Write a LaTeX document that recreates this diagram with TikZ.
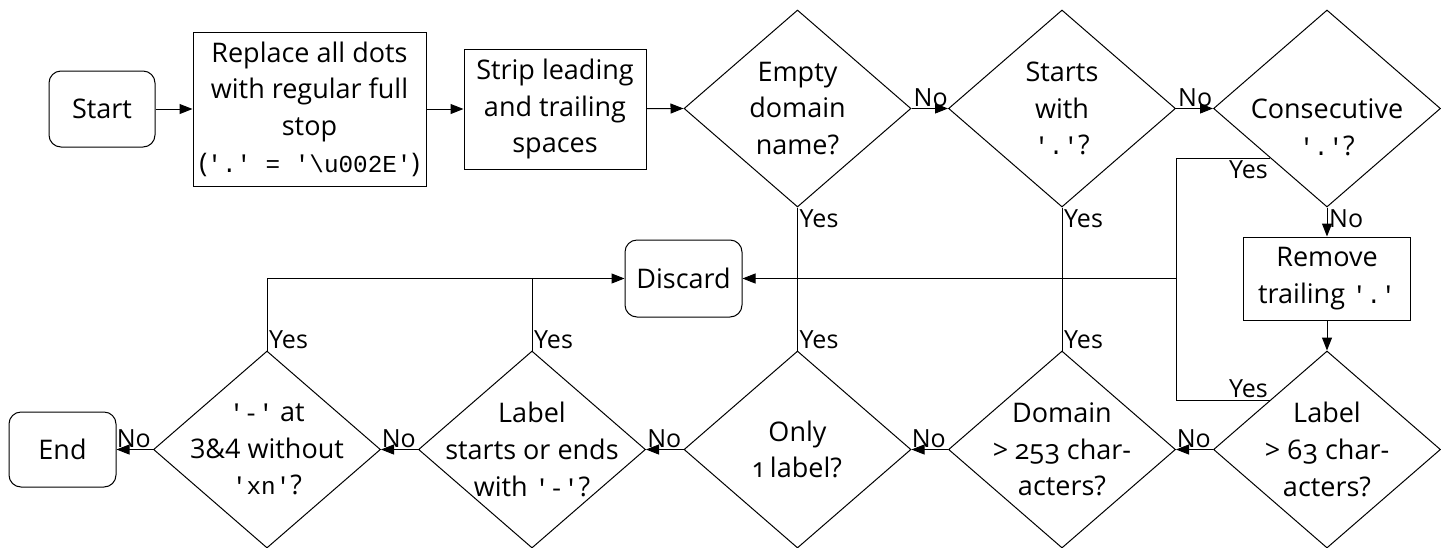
\documentclass[tikz,border=0pt]{standalone}
\usepackage{fontspec}
\setmainfont{Open Sans}
\setmonofont{Liberation Mono}[Scale=0.9]
\usetikzlibrary{shapes.geometric,arrows.meta,calc}
\newcommand{\osf}[1]{{\addfontfeatures{Numbers=OldStyle}#1}}
\begin{document}
\begin{tikzpicture}[x=1pt,y=1pt,
  font=\fontsize{27}{36.7}\selectfont,
  base/.style={draw=black, line width=1pt},
  term/.style={base, rounded corners=12pt, minimum width=106pt, minimum height=76pt, inner sep=0pt},
  procbox/.style={base, inner sep=0pt, align=center},
  dia/.style={base, diamond, minimum width=227pt, minimum height=197pt, inner sep=0pt},
  txt/.style={align=center, inner sep=0pt},
  ln/.style={line width=1pt},
  arr/.style={line width=1pt, -{Triangle[length=13pt,width=10pt]}},
  lab/.style={inner sep=2pt, font=\fontsize{25}{30}\selectfont}]
\useasboundingbox (0,0) rectangle (1441,-547);

% top row
\node[term] (start) at (102,-109) {Start};
\node[procbox, minimum width=233pt, minimum height=154pt] (replace) at (309.5,-109)
  {Replace all dots\\with regular full\\stop\\(\texttt{'.' = '\textbackslash u002E'})};
\node[procbox, minimum width=182pt, minimum height=120pt] (strip) at (555,-109)
  {Strip leading\\and trailing\\spaces};
\node[dia] (empty) at (797.5,-108.5) {};
\node[txt] (empty-t) at (empty) {Empty\\domain\\name?};
\node[dia] (starts) at (1062,-108.5) {};
\node[txt] (starts-t) at (starts) {Starts\\with\\\texttt{'.'}?};
\node[dia] (consec) at (1327,-108.5) {};
\node[txt] (consec-t) at (1327,-127) {Consecutive\\\texttt{'.'}?};

% middle
\node[procbox, minimum width=167pt, minimum height=83pt] (remove) at (1327,-278.5)
  {Remove\\trailing \texttt{'.'}};
\node[term, minimum width=117pt, minimum height=77pt] (discard) at (683.5,-278.5) {Discard};

% bottom row
\node[dia] (lab63) at (1327,-449.5) {};
\node[txt] (lab63-t) at (lab63) {Label\\> \osf{63} char-\\acters?};
\node[dia] (domain) at (1062,-449.5) {};
\node[txt] (domain-t) at (domain) {Domain\\> \osf{253} char-\\acters?};
\node[dia] (only) at (797.5,-449.5) {};
\node[txt] (only-t) at (only) {Only\\\osf{1} label?};
\node[dia] (lstart) at (532,-449.5) {};
\node[txt] (lstart-t) at (lstart) {Label\\starts or ends\\with \texttt{'-'}?};
\node[dia] (dash) at (267,-449.5) {};
\node[txt] (dash-t) at (dash) {\texttt{'-'} at\\3\&4 without\\\texttt{'xn'}?};
\node[term, minimum width=107pt, minimum height=75pt] (end) at (62.5,-449.5) {End};

% main flow
\draw[arr] (start) -- (replace);
\draw[arr] (replace) -- (strip);
\draw[arr] (strip) -- (empty.west);
\draw[arr] (empty.east) -- (starts.west);
\draw[arr] (starts.east) -- (consec.west);
\draw[arr] (consec.south) -- (remove.north);
\draw[arr] (remove.south) -- (lab63.north);
\draw[arr] (lab63.west) -- (domain.east);
\draw[arr] (domain.west) -- (only.east);
\draw[arr] (only.west) -- (lstart.east);
\draw[arr] (lstart.west) -- (dash.east);
\draw[arr] (dash.west) -- (end.east);

\node[lab, anchor=south west] (no1) at (empty.east) {No};
\node[lab, anchor=south west] (no2) at (starts.east) {No};
\node[lab, anchor=north west] (no3) at (consec.south) {No};
\node[lab, anchor=south east] (no4) at (lab63.west) {No};
\node[lab, anchor=south east] (no5) at (domain.west) {No};
\node[lab, anchor=south east] (no6) at (only.west) {No};
\node[lab, anchor=south east] (no7) at (lstart.west) {No};
\node[lab, anchor=south east] (no8) at (dash.west) {No};

% yes branches
\coordinate (jr) at (1176,-278.5);
\coordinate (cy) at ($(consec.west)!.5!(consec.south)$);
\coordinate (ly) at ($(lab63.west)!.5!(lab63.north)$);
\draw[arr] (cy) -- (cy -| jr) -- (jr) -- (discard.east);
\draw[ln] (ly) -- (ly -| jr) -- (jr);
\draw[ln] (empty.south) -- (empty.south |- discard.east);
\draw[ln] (starts.south) -- (starts.south |- discard.east);
\draw[ln] (only.north) -- (only.north |- discard.east);
\draw[ln] (domain.north) -- (domain.north |- discard.east);
\draw[arr] (dash.north) |- (discard.west);
\draw[ln] (lstart.north) -- (lstart.north |- discard.west);

\node[lab, anchor=north west] (y1) at (empty.south) {Yes};
\node[lab, anchor=north west] (y2) at (starts.south) {Yes};
\node[lab, anchor=north east] (y3) at (cy) {Yes};
\node[lab, anchor=south east] (y4) at (ly) {Yes};
\node[lab, anchor=south west] (y5) at (only.north) {Yes};
\node[lab, anchor=south west] (y6) at (domain.north) {Yes};
\node[lab, anchor=south west] (y7) at (lstart.north) {Yes};
\node[lab, anchor=south west] (y8) at (dash.north) {Yes};
\end{tikzpicture}
\end{document}
